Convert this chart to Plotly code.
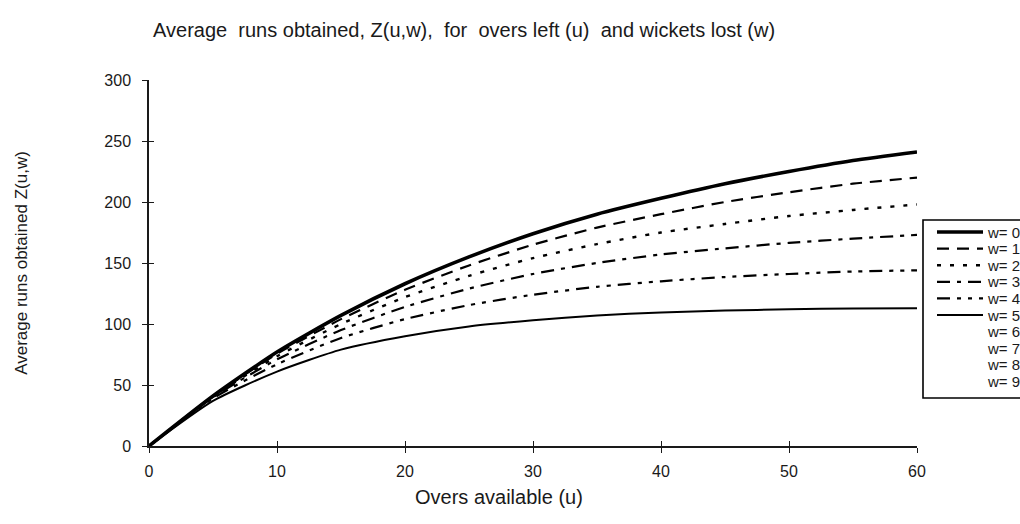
import plotly.graph_objects as go

# ---- data ----
overs = [0, 5, 10, 15, 20, 25, 30, 35, 40, 45, 50, 55, 60]
z_w0 = [0, 41, 77, 107, 133, 155, 174, 190, 203, 215, 225, 234, 241]
z_w1 = [0, 41, 75.5, 104, 128, 148, 165, 179, 190, 200, 208, 215, 220]
z_w2 = [0, 40.5, 73.5, 100, 122, 139.5, 154, 165.5, 175, 182, 188.5, 193.5, 198]
z_w3 = [0, 40, 71, 95, 114, 129, 141, 150, 157, 162, 166.5, 170, 173]
z_w4 = [0, 39, 67, 88.5, 104, 115.5, 124, 130.5, 135, 138.5, 141, 143, 144]
z_w5 = [0, 37, 61, 79, 90, 98, 103, 107, 109.5, 111, 112, 112.8, 113]
legend_names = ["w= 0", "w= 1", "w= 2", "w= 3", "w= 4", "w= 5", "w= 6", "w= 7", "w= 8", "w= 9"]
x_ticks = [0, 10, 20, 30, 40, 50, 60]
y_ticks = [0, 50, 100, 150, 200, 250, 300]

series = [z_w0, z_w1, z_w2, z_w3, z_w4, z_w5]
styles = [
    dict(width=3.6, dash="solid"),
    dict(width=2.2, dash="12px,8px"),
    dict(width=2.4, dash="4px,9px"),
    dict(width=2.2, dash="13px,7px,4px,7px"),
    dict(width=2.2, dash="13px,7px,4px,7px,4px,7px"),
    dict(width=2.0, dash="solid"),
]

FONT = "Liberation Sans, Arial, sans-serif"
INK = "#1a1a1a"

# plot-area geometry in pixels (used to place the hand-drawn legend box)
W, H = 1020, 524
L, R, T, B = 149, 103, 80, 78
PW, PH = W - L - R, H - T - B


def px_x(px):
    return (px - L) / PW


def px_y(py):
    return (H - B - py) / PH


fig = go.Figure()
for name, ys, st in zip(legend_names[:6], series, styles):
    fig.add_trace(go.Scatter(
        x=overs, y=ys, mode="lines", name=name, showlegend=False,
        line=dict(color="black", width=st["width"], dash=st["dash"], shape="spline", smoothing=0.6),
        hoverinfo="skip",
    ))

# ---- legend (box, samples, labels) ----
shapes = [dict(type="rect", xref="paper", yref="paper",
               x0=px_x(923), x1=px_x(1040), y0=px_y(398), y1=px_y(220),
               line=dict(color="black", width=1.6), fillcolor="white", layer="above")]
annotations = []
for i, name in enumerate(legend_names):
    yc = 232 + i * 16.6
    if i < len(styles):
        st = styles[i]
        shapes.append(dict(type="line", xref="paper", yref="paper",
                           x0=px_x(937), x1=px_x(983), y0=px_y(yc), y1=px_y(yc),
                           line=dict(color="black", width=st["width"], dash=st["dash"]),
                           layer="above"))
    annotations.append(dict(text=name, xref="paper", yref="paper", x=px_x(985), y=px_y(yc),
                            xanchor="left", yanchor="middle", showarrow=False,
                            font=dict(family=FONT, size=15, color=INK)))

# x-axis title
annotations.append(dict(text="Overs available (u)", xref="paper", yref="paper",
                        x=px_x(499), y=px_y(497), xanchor="center", yanchor="middle",
                        showarrow=False, font=dict(family=FONT, size=20, color=INK)))

axis_common = dict(showgrid=False, zeroline=False)
fig.update_layout(
    width=W, height=H,
    margin=dict(l=L, r=R, t=T, b=B, autoexpand=False),
    paper_bgcolor="white", plot_bgcolor="white",
    font=dict(family=FONT, color=INK, size=16),
    showlegend=False,
    title=dict(
        text="Average\u00a0\u00a0runs obtained, Z(u,w),\u00a0\u00a0for\u00a0\u00a0overs left (u)\u00a0\u00a0and wickets lost (w)",
        x=0.455, xanchor="center", y=0.943, yanchor="middle",
        font=dict(family=FONT, size=20, color=INK),
    ),
    xaxis=dict(
        range=[0, 60], tickvals=x_ticks, ticks="outside", ticklen=5, tickwidth=1.3,
        tickcolor=INK, showline=True, linecolor=INK, linewidth=1.5,
        tickfont=dict(family=FONT, size=16, color=INK), ticklabelstandoff=5,
        **axis_common,
    ),
    yaxis=dict(
        range=[0, 300], tickvals=y_ticks, ticks="outside", ticklen=5, tickwidth=1.3,
        tickcolor=INK, showline=True, linecolor=INK, linewidth=1.5,
        tickfont=dict(family=FONT, size=16, color=INK), ticklabelstandoff=8,
        title=dict(text="Average runs obtained Z(u,w)", font=dict(family=FONT, size=17, color=INK), standoff=72),
        **axis_common,
    ),
    xaxis2=dict(
        range=[0, 60], tickvals=x_ticks, ticks="inside", ticklen=5, tickwidth=1.3,
        tickcolor=INK, showticklabels=False, showline=False, overlaying="x", anchor="y",
        **axis_common,
    ),
    yaxis2=dict(
        range=[0, 300], tickvals=y_ticks, ticks="inside", ticklen=5, tickwidth=1.3,
        tickcolor=INK, showticklabels=False, showline=False, overlaying="y", anchor="x",
        **axis_common,
    ),
    shapes=shapes,
    annotations=annotations,
)
fig.add_trace(go.Scatter(x=[None], y=[None], xaxis="x2", yaxis="y2", showlegend=False, hoverinfo="skip"))

fig.write_html("out.html")
